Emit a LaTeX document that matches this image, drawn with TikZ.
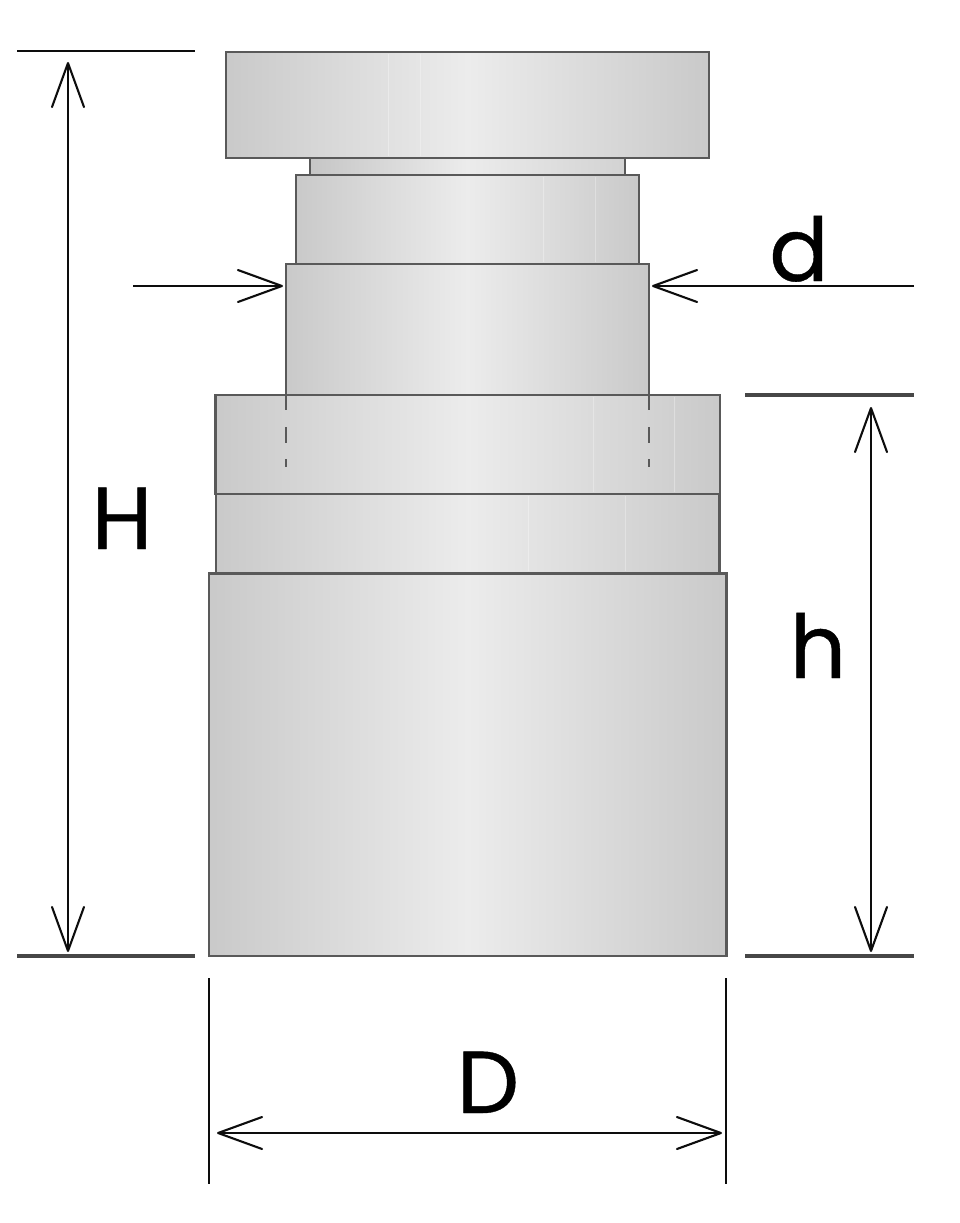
\documentclass[tikz,border=0pt]{standalone}
\usepackage{fontspec}
\setmainfont{Poppins}[FakeBold=0.45]
\usetikzlibrary{arrows.meta}
\definecolor{edgeg}{gray}{0.35}
\definecolor{dimk}{gray}{0.05}
\definecolor{sideg}{gray}{0.79}
\definecolor{midg}{gray}{0.925}
\tikzset{
  x=1pt,y=-1pt,
  part/.style={draw=edgeg,line width=2.8pt,line join=miter,left color=sideg,right color=sideg,middle color=midg},
  hidden/.style={draw=edgeg,line width=2.4pt},
  stripe/.style={draw=white,line width=1pt,opacity=0.3},
  ext/.style={draw=dimk,line width=2pt},
  extheavy/.style={draw=black!72,line width=3.4pt},
  dimline/.style={draw=dimk,line width=2.1pt},
  barb/.tip={Straight Barb[length=44pt,width=32pt,line width=2.1pt,round]},
  one/.style={dimline,-{barb}},
  both/.style={dimline,{barb}-{barb}},
  lab/.style={font=\fontsize{88}{88}\selectfont,text=black,inner sep=0pt,outer sep=0pt,anchor=base},
}
\begin{document}
\begin{tikzpicture}
\useasboundingbox (0,0) rectangle (960,1223);
% body
\path[part] (226,52) rectangle (709,158);
\path[part,left color=gray!45!white,right color=gray!35!white,middle color=midg] (310,158) rectangle (625,175);
\path[part] (296,175) rectangle (639,264);
\path[part] (286,264) rectangle (649,395);
\path[part] (215.5,395) rectangle (720,494);
\path[part] (216,494) rectangle (719.5,573.5);
\path[part] (209,573.5) rectangle (726.5,956);
% faint banding
\draw[stripe] (388,54) -- (388,156);
\draw[stripe] (420,54) -- (420,156);
\draw[stripe] (543,177) -- (543,262);
\draw[stripe] (595,177) -- (595,262);
\draw[stripe] (593,397) -- (593,492);
\draw[stripe] (674,397) -- (674,492);
\draw[stripe] (528,496) -- (528,571);
\draw[stripe] (625,496) -- (625,571);
% hidden edges
\foreach \hx in {286,649}{
  \draw[hidden] (\hx,395) -- (\hx,410);
  \draw[hidden] (\hx,427) -- (\hx,443);
  \draw[hidden] (\hx,459) -- (\hx,467);
}
% extension coordinates
\coordinate (topA) at (17,51);   \coordinate (topB) at (195,51);
\coordinate (botA) at (17,956);  \coordinate (botB) at (195,956);
\coordinate (rtA) at (745,395);  \coordinate (rtB) at (914,395);
\coordinate (rbA) at (745,956);  \coordinate (rbB) at (914,956);
\coordinate (dlA) at (209,978);  \coordinate (dlB) at (209,1184);
\coordinate (drA) at (726,978);  \coordinate (drB) at (726,1184);
\coordinate (HT) at (68,62);     \coordinate (HB) at (68,952);
\coordinate (hT) at (871,407);   \coordinate (hB) at (871,952);
\coordinate (DL) at (217,1133);  \coordinate (DR) at (722,1133);
\coordinate (dLs) at (133,286);  \coordinate (dLe) at (283,286);
\coordinate (dRs) at (914,286);  \coordinate (dRe) at (652,286);
\draw[ext] (topA) -- (topB);
\draw[extheavy] (botA) -- (botB);
\draw[extheavy] (rtA) -- (rtB);
\draw[extheavy] (rbA) -- (rbB);
\draw[ext] (dlA) -- (dlB);
\draw[ext] (drA) -- (drB);
\draw[both] (HT) -- (HB);
\draw[both] (hT) -- (hB);
\draw[both] (DL) -- (DR);
\draw[one] (dLs) -- (dLe);
\draw[one] (dRs) -- (dRe);
% labels
\node[lab] (labH) at (122,549) {H};
\node[lab] (labh) at (818,678) {h};
\node[lab] (labd) at (799,281) {d};
\node[lab] (labD) at (488,1113) {D};
\end{tikzpicture}
\end{document}
